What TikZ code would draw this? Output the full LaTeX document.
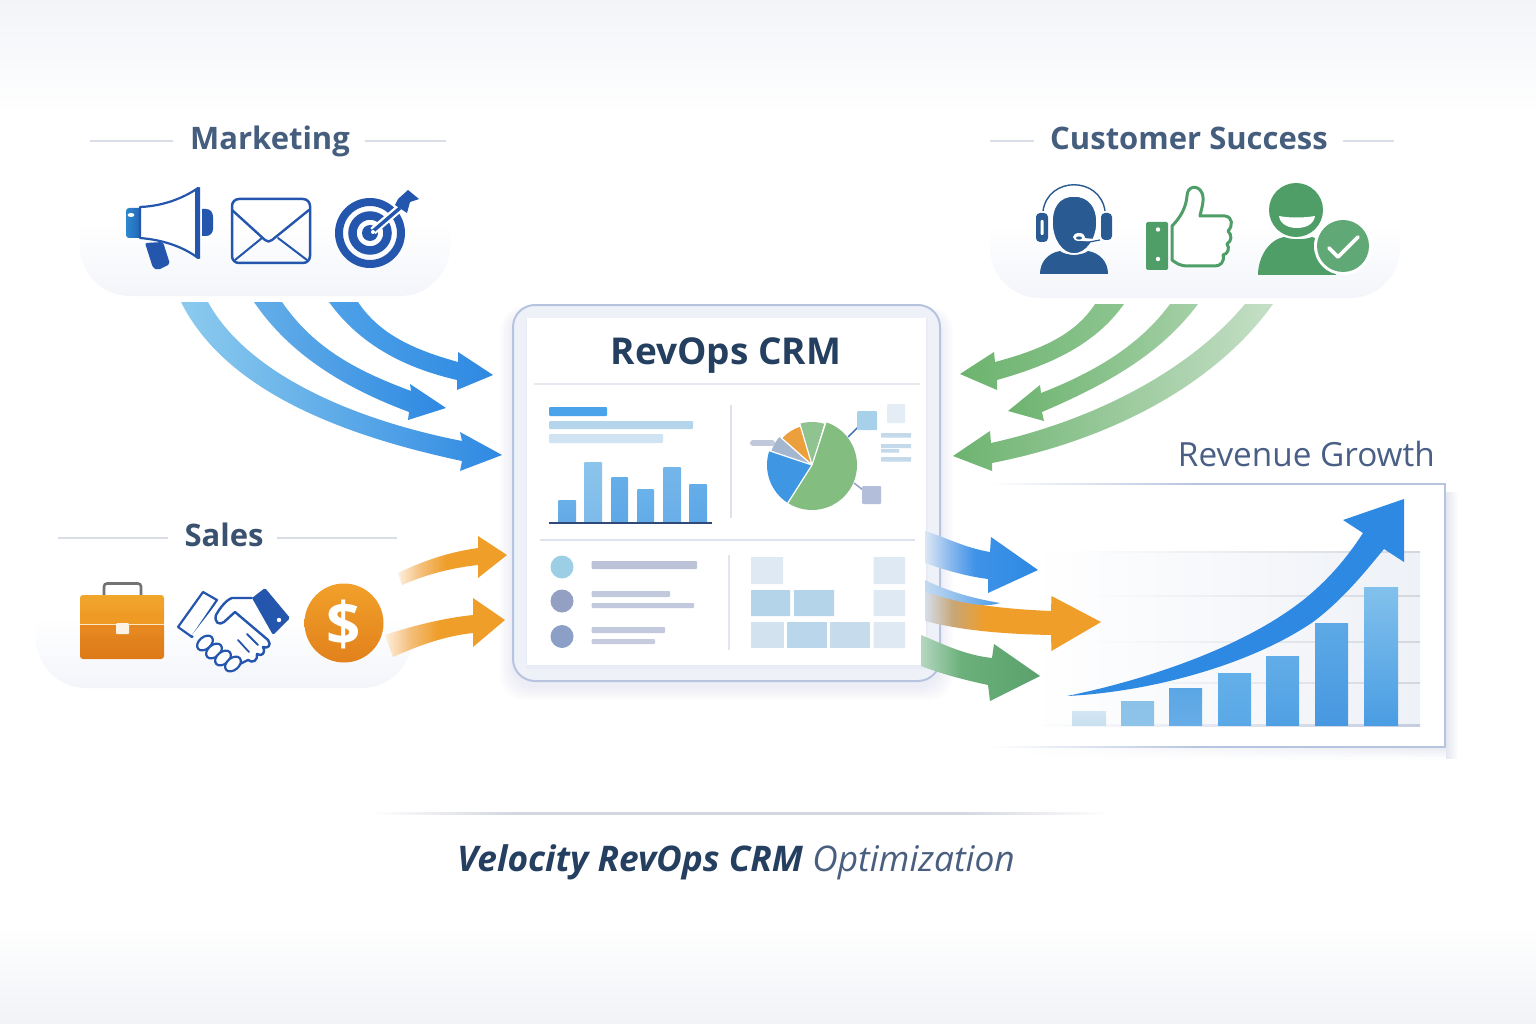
\documentclass[tikz,border=0pt]{standalone}
\usepackage{fontspec}
\setmainfont{Open Sans}
\usetikzlibrary{calc}
\definecolor{navy}{HTML}{243F5F}
\definecolor{slate}{HTML}{465E7E}
\definecolor{iconblue}{HTML}{2456AD}
\definecolor{headset}{HTML}{2A5A92}
\definecolor{csgreen}{HTML}{4F9E68}
\definecolor{rule}{HTML}{D9DDE5}
\definecolor{arrowblue}{HTML}{2E89E2}
\definecolor{arroworange}{HTML}{EF9E2A}
\definecolor{arrowgreen}{HTML}{6DB36F}
\definecolor{outgreen}{HTML}{5AA16D}
\definecolor{edge}{HTML}{B6C4DF}
\definecolor{pale}{HTML}{DFE9F3}
\definecolor{cell}{HTML}{B4D4EA}
\definecolor{textbar}{HTML}{BCC3D8}
\definecolor{grid}{HTML}{E2E6EE}
\newcommand{\hexc}[1]{\definecolor{#1}{HTML}{#1}}
\makeatletter
\newcommand{\hexall}[1]{\@for\hx:=#1\do{\expandafter\hexc\expandafter{\hx}}}
\makeatother
\hexall{F2F4F8,F1F3F7,F3F5FA,2E88CE,2160B2,F1A52B,EE9A25,E6881F,DC7A18,FBE6C6,FDF3E5,F1A02A,E2811C,EEF2F8,E6E9EF,DEE3EE,DDE2EA,E1E5EE,4BA3EA,B5D5EC,CFE3F2,6AB0E8,8CC5EC,66AEE8,6AB2EA,74B6EA,64ADE8,3F90E2,2F4A78,C1C8DC,84BD80,3F97E3,A5B6CF,EB9F3D,8FC38F,3C6CB0,9AA6BF,A7D0EA,E4EDF6,B3BEDB,C4D9EA,9CCFE6,939FC3,8C9FC6,D2E2EF,BAD6EA,C6DCEC,EEF1F7,C4CCDE,D3E6F3,C9E0F0,8CC2E8,8FC4E9,5AA6E4,67ADE8,62AFE9,5AA8E6,62ADE8,4FA0E3,5DA9E6,4798E1,82C1EC,4A9DE3,4A5F85,8CCBEE,64AEE8,4FA2E8,8CC58F,A5D0A7,C5DFC6,FDF0DE,F4C07E,DCE7F4,8AB8EE,3F93E8,D5DEEC,C8A676,C5DAF0,4C9CE8,B4D6C0,6BB07A,D2D6DE,4A5F7F,E4E7F0}
\pgfdeclarehorizontalshading{orangein}{100bp}{color(0bp)=(FDF0DE); color(25bp)=(FDF0DE); color(35bp)=(F4C07E); color(47bp)=(arroworange); color(100bp)=(arroworange)}
\pgfdeclarehorizontalshading{blueout}{100bp}{color(0bp)=(DCE7F4); color(25bp)=(DCE7F4); color(36bp)=(8AB8EE); color(47bp)=(3F93E8); color(75bp)=(arrowblue); color(100bp)=(arrowblue)}
\pgfdeclarehorizontalshading{orangeout}{100bp}{color(0bp)=(D5DEEC); color(25bp)=(D5DEEC); color(33bp)=(C8A676); color(42bp)=(arroworange); color(100bp)=(arroworange)}
\pgfdeclarehorizontalshading{greenout}{100bp}{color(0bp)=(B4D6C0); color(25bp)=(B4D6C0); color(42bp)=(6BB07A); color(75bp)=(outgreen); color(100bp)=(outgreen)}
\pgfdeclarehorizontalshading{rulefade}{100bp}{color(0bp)=(white); color(25bp)=(white); color(35bp)=(D2D6DE); color(65bp)=(D2D6DE); color(75bp)=(white); color(100bp)=(white)}
\tikzset{
  heading/.style={font=\bfseries\fontsize{31}{31}\selectfont,text=slate,inner sep=0pt,anchor=base},
  headrule/.style={draw=rule,line width=2pt},
  softpanel/.style={top color=white,bottom color=F3F5FA,middle color=white,draw=none,rounded corners=50pt},
  iconline/.style={draw=iconblue,line width=2.2pt,line join=round,line cap=round},
}
\newcommand{\softshadow}[5]{%
  \foreach \i in {1,...,9}{
    \fill[black!55!blue!40,opacity=0.012,rounded corners=#5pt]
      (#1-\i*1.5,#2-\i*0.5+6) rectangle (#3+\i*1.5,#4+\i*1.5+6);
  }}
\begin{document}
\begin{tikzpicture}[x=1pt,y=-1pt]
\useasboundingbox (0,0) rectangle (1536,1024);
% background
\fill[white] (0,0) rectangle (1536,1024);
\shade[top color=F2F4F8,bottom color=white] (0,0) rectangle (1536,115);
\shade[top color=white,bottom color=F1F3F7] (0,925) rectangle (1536,1024);

% group panels
\shade[softpanel] (80,150) rectangle (450,296);
\shade[softpanel] (990,150) rectangle (1400,298);
\shade[softpanel] (36,545) rectangle (412,688);

% headings
\node[heading] (mk) at (270,150) {Marketing};
\draw[headrule] (90,141) -- (173,141);
\draw[headrule] (365,141) -- (446,141);
\node[heading] (cs) at (1189,150) {Customer Success};
\draw[headrule] (990,141) -- (1034,141);
\draw[headrule] (1343,141) -- (1394,141);
\node[heading,text=navy!90!white] (sl) at (224,546) {Sales};
\draw[headrule] (58,538) -- (168,538);
\draw[headrule] (277,538) -- (397,538);

% megaphone
\path[rounded corners=3pt,left color=2E88CE,right color=2160B2] (126,208) rectangle (143,238);
\fill[white] (131,215) ellipse (3.4 and 2);
\fill[iconblue] (202,209) -- (206,209) .. controls (211,209) and (213,213) .. (213,217) -- (213,229) .. controls (213,233) and (210,236) .. (206,236) -- (202,236) -- cycle;
\fill[iconblue,rounded corners=2pt] (145,243) -- (163,242) -- (170,264) -- (158,270) -- (153,268) -- cycle;
\path[fill=white,draw=iconblue,line width=2.2pt,line join=round] (140,207) .. controls (165,206) and (185,197) .. (198,188) -- (198,258) .. controls (185,248) and (165,240) .. (140,238) -- cycle;
\fill[iconblue] (195,190) -- (200,187) -- (200,259) -- (195,256) -- cycle;
% envelope
\draw[iconline,line width=2.5pt,rounded corners=7pt] (232,199) rectangle (310,263);
\draw[iconline,line width=2.4pt] (232,210) -- (265,240) .. controls (267,242) and (270,242) .. (272,240) -- (309,210);
\draw[iconline,line width=2pt] (235,260) -- (262,238);
\draw[iconline,line width=2pt] (307,260) -- (278,238);
% target
\draw[iconblue,line width=8pt] (370,233) circle (31);
\draw[iconblue,line width=8.5pt] (370,233) circle (17.5);
\fill[iconblue] (370,233) circle (8);
\draw[white,line width=8pt] (373,231) -- (408,201);
\draw[iconblue,line width=3.5pt] (372,232) -- (400,208);
\fill[white] (373,232) circle (2);
\fill[iconblue] (408,190) -- (419,199) -- (410,202) -- (407,213) -- (395,205) -- (398,199) -- cycle;

% headset agent
\fill[headset] (1040,274) .. controls (1040,262) and (1048,253) .. (1060,251) .. controls (1066,256) and (1082,256) .. (1088,251) .. controls (1100,253) and (1108,262) .. (1108,274) -- cycle;
\fill[headset,draw=white,line width=1.5pt] (1074,196) .. controls (1090,196) and (1097,208) .. (1097,222) .. controls (1097,240) and (1086,254) .. (1074,254) .. controls (1062,254) and (1052,240) .. (1052,222) .. controls (1052,208) and (1058,196) .. (1074,196) -- cycle;
\draw[headset,line width=1.4pt] (1043,211) .. controls (1048,176) and (1100,176) .. (1105,211);
\fill[headset,rounded corners=4pt] (1036,213) rectangle (1048,242);
\fill[white,rounded corners=1pt] (1040.5,220) rectangle (1043.5,235);
\fill[headset,rounded corners=4pt] (1101,213) rectangle (1112,240);
\draw[white,line width=3pt] (1078,239) -- (1100,241);
\draw[headset,line width=1.2pt] (1100,240) -- (1084,243);
\fill[white] (1079,237) ellipse (6 and 4);
\fill[headset] (1079,238) ellipse (3 and 1.6);

% thumbs up
\draw[csgreen,fill=white,line width=3pt,line join=round] (1172,226) .. controls (1180,218) and (1186,208) .. (1187,196) .. controls (1187,186) and (1198,184) .. (1202,193) .. controls (1205,200) and (1201,210) .. (1200,216) -- (1225,216) .. controls (1233,217) and (1233,226) .. (1228,231) .. controls (1232,235) and (1232,241) .. (1227,244) .. controls (1230,248) and (1228,254) .. (1223,255) .. controls (1225,262) and (1220,266) .. (1215,266) -- (1188,266) .. controls (1180,266) and (1176,263) .. (1172,260) -- cycle;
\fill[csgreen,rounded corners=1.5pt] (1146,222) rectangle (1168,270);
\fill[white] (1158,229.5) circle (2.2) (1158,259) circle (2.2);

% happy person with check
\fill[csgreen] (1258,275) .. controls (1258,258) and (1268,240) .. (1284,237) .. controls (1292,240) and (1304,240) .. (1312,237) .. controls (1326,240) and (1336,258) .. (1336,275) -- cycle;
\fill[csgreen] (1296,210) circle (27);
\fill[white] (1279,216) .. controls (1288,218) and (1304,218) .. (1315,216) .. controls (1314,224) and (1306,228) .. (1297,228) .. controls (1288,228) and (1280,224) .. (1279,216) -- cycle;
\fill[white] (1343,246) circle (29);
\fill[csgreen!90!white] (1343,246) circle (26);
\draw[white,line width=3.6pt,line cap=round,line join=round] (1329,248) -- (1338,257) -- (1358,237);

% briefcase
\draw[black!55!white,line width=2.6pt,rounded corners=3pt] (104,596) -- (104,583.5) -- (141,583.5) -- (141,596);
\path[top color=F1A52B,bottom color=EE9A25,rounded corners=3pt] (80,595) -- (164,595) -- (164,624) -- (80,624) -- cycle;
\path[top color=E6881F,bottom color=DC7A18,rounded corners=3pt] (80,624) -- (164,624) -- (164,659) -- (80,659) -- cycle;
\fill[EE9A25] (80,612) rectangle (164,624);
\fill[E6881F] (80,624) rectangle (164,635);
\draw[FBE6C6,line width=1pt] (80,624) -- (164,624);
\fill[FDF3E5,rounded corners=1pt] (116,623) rectangle (129,634);

% handshake
\draw[iconline,fill=white,line width=2.2pt] (203,592) -- (217,600) -- (192,637) -- (178,627) -- cycle;
\path[fill=white] (192,635) -- (233,668) -- (255,660) -- (272,640) -- (252,598) -- (232,598) -- (217,603) -- cycle;
\draw[iconline,line width=2.4pt] (252,598) -- (232,598) .. controls (226,600) and (220,608) .. (216,615) .. controls (214,622) and (219,626) .. (224,622) -- (235,612) -- (268,640) .. controls (272,645) and (268,649) .. (263,647) .. controls (266,653) and (262,657) .. (257,654) .. controls (258,660) and (253,664) .. (248,660) -- (240,664);
\draw[iconline,line width=1.8pt] (247,634) -- (258,645);
\draw[iconline,line width=1.8pt] (238,640) -- (249,652);
\foreach \c/\a in {(205,643)/40,(214,651)/40,(223,658)/40,(233,664)/40}{
  \draw[iconline,fill=white,line width=2.2pt,rotate around={\a:\c}] \c ellipse (9 and 6);
}
\fill[iconblue,rounded corners=1.5pt] (265,588) -- (290,618) -- (273,635) -- (252,598) -- cycle;
\fill[white] (279,620) circle (2.2);

% dollar coin
\shade[top color=F1A02A,bottom color=E2811C] (344,623) circle (39.5);
\node[font=\bfseries\fontsize{60}{60}\selectfont,text=white,inner sep=0pt] (dollar) at (344,624) {\$};

% CRM panel
\softshadow{513}{305}{940}{681}{24}
\draw[edge,line width=2pt,fill=EEF2F8,rounded corners=22pt] (513,305) rectangle (940,681);
\fill[black!60!blue!40,opacity=0.06] (526,318) rectangle (928,669);
\fill[white] (527,318) rectangle (926,665);
\node[font=\bfseries\fontsize{37}{37}\selectfont,text=navy,inner sep=0pt,anchor=base] (crm) at (726,364) {RevOps CRM};
\draw[E6E9EF,line width=2pt] (534,383.5) -- (920,383.5);
\draw[DEE3EE,line width=2.5pt] (540,540) -- (915,540);
\draw[DDE2EA,line width=2.5pt] (731,405) -- (731,518);
\draw[E1E5EE,line width=1.5pt] (729,555) -- (729,650);
% text bars top-left
\fill[4BA3EA,rounded corners=1pt] (549,407) rectangle (607,416);
\fill[B5D5EC,rounded corners=1pt] (549,421) rectangle (693,429);
\fill[CFE3F2,rounded corners=1pt] (549,434) rectangle (663,443);
% bars
\foreach \xa/\xb/\yt/\c in {558/576/500/6AB0E8,584/602/462/8CC5EC,611/628/477/66AEE8,637/654/489/6AB2EA,663/681/467/74B6EA,689/707/484/64ADE8}{
  \path[top color=\c,bottom color=\c!80!3F90E2,rounded corners=1pt] (\xa,\yt) rectangle (\xb,523);
}
\draw[2F4A78,line width=1.6pt] (549,523) -- (712,523);
% pie
\coordinate (pie) at (812,465);
\draw[C1C8DC,line width=6pt,line cap=round] (753,443) -- (772,443);
\fill[84BD80] (pie) -- ++(-72:45) arc[start angle=-72,end angle=122,radius=45] -- cycle;
\fill[3F97E3] (pie) -- ++(122.5:45) arc[start angle=122.5,end angle=198,radius=45] -- cycle;
\fill[A5B6CF] (pie) -- ++(199:43) arc[start angle=199,end angle=221,radius=43] -- cycle;
\fill[EB9F3D] (pie) -- ++(222:40) arc[start angle=222,end angle=253,radius=40] -- cycle;
\fill[8FC38F] (pie) -- ++(254:43) arc[start angle=254,end angle=286.5,radius=43] -- cycle;
\draw[white,line width=1.2pt] (pie) -- ++(-72:46) (pie) -- ++(122.5:46) (pie) -- ++(198.5:46) (pie) -- ++(221.5:46) (pie) -- ++(253.5:46);
\draw[3C6CB0,line width=1.4pt] (848,437) -- (858,427);
\draw[9AA6BF,line width=1.6pt] (854,483) -- (863,490);
\fill[A7D0EA,rounded corners=1pt] (857,411) rectangle (877,430);
\fill[E4EDF6,rounded corners=1pt] (887,404) rectangle (905,423);
\fill[B3BEDB,rounded corners=1pt] (862,486) rectangle (881,504);
\fill[C4D9EA] (881,433) rectangle (911,437.5) (881,444) rectangle (911,448) (881,449) rectangle (899,452.5) (881,457) rectangle (911,461.5);
% list rows
\fill[9CCFE6] (562,567) ellipse (11.5 and 11.5);
\fill[939FC3] (562,601) ellipse (11.5 and 11.5);
\fill[8C9FC6] (562,636.5) ellipse (11.5 and 11.5);
\fill[textbar,rounded corners=1pt] (591.5,561) rectangle (697,569);
\fill[textbar!90!white,rounded corners=1pt] (591.5,591) rectangle (670,597);
\fill[textbar!90!white,rounded corners=1pt] (591.5,603) rectangle (694,608);
\fill[textbar!90!white,rounded corners=1pt] (591.5,627) rectangle (665,633);
\fill[textbar!85!white,rounded corners=1pt] (591.5,639) rectangle (655,644);
% grid cells
\fill[pale] (751,557) rectangle (783,584) (873.5,557) rectangle (905,584) (873.5,590) rectangle (905,616) (873.5,622) rectangle (905,648);
\fill[cell] (751,590) rectangle (790,616) (794,590) rectangle (834,616);
\fill[D2E2EF] (751,622) rectangle (784,648);
\fill[BAD6EA] (787,622) rectangle (827,648);
\fill[C6DCEC] (830,622) rectangle (870,648);

% chart frame
\foreach \i [evaluate=\i as \p using 100-\i*15] in {1,...,6}{
  \shade[left color=white,right color=E4E7F0!\p!white] (1010,747+2*\i-2) rectangle (1447,747+2*\i);
}
\shade[left color=E4E7F0,right color=white] (1446,492) rectangle (1458,758);
\fill[white] (987,484) rectangle (1445,747);
\shade[left color=white,right color=edge] (990,483.2) rectangle (1200,484.8);
\fill[edge] (1200,483.2) rectangle (1446,484.8);
\shade[left color=white,right color=edge] (990,746.2) rectangle (1200,747.8);
\fill[edge] (1200,746.2) rectangle (1446,747.8);
\fill[edge] (1444.4,483.2) rectangle (1446,747.8);
\shade[left color=white,right color=EEF1F7] (1030,552) rectangle (1420,725);
\foreach \y in {552,596,642,683}{
  \shade[left color=white,right color=grid!85!gray] (1065,\y-0.8) rectangle (1420,\y+0.8);
}
\shade[left color=white,right color=C4CCDE] (1030,724.4) rectangle (1420,726);
\foreach \xa/\xb/\yt/\c/\d in {1072/1106/711/D3E6F3/C9E0F0,1121/1154/701/8CC2E8/8FC4E9,1169/1202/688/5AA6E4/67ADE8,1218/1251/673/62AFE9/5AA8E6,1266/1299/656/62ADE8/4FA0E3,1315/1348/623/5DA9E6/4798E1,1364/1398/587/82C1EC/4A9DE3}{
  \shade[top color=\c,bottom color=\d] (\xa,\yt) rectangle (\xb,725);
}
\fill[arrowblue] (1067,696) .. controls (1160,677) and (1260,640) .. (1315,590) .. controls (1335,572) and (1350,553) .. (1363,533) -- (1343,520) -- (1404,499) -- (1404,562) -- (1384,549) .. controls (1368,568) and (1345,598) .. (1313,622) .. controls (1250,665) and (1150,692) .. (1067,696) -- cycle;
\node[font=\fontsize{33.3}{33.3}\selectfont,text=4A5F85,inner sep=0pt,anchor=base east] (rev) at (1435,466) {Revenue Growth};

% inbound arrows (blue)
\shade[left color=8CCBEE,right color=arrowblue] (181,302) .. controls (225,390) and (340,435) .. (462,461) -- (460,471) -- (502,455) -- (460,432) -- (462,441) .. controls (345,418) and (245,370) .. (208,302) -- cycle;
\shade[left color=64AEE8,right color=arrowblue] (254,302) .. controls (290,355) and (345,388) .. (409,412) -- (408,420) -- (446,408) -- (410,384) -- (411,391) .. controls (360,372) and (315,350) .. (282,302) -- cycle;
\shade[left color=4FA2E8,right color=arrowblue] (329,302) .. controls (360,345) and (405,368) .. (457,380) -- (457,390) -- (493,375) -- (458,352) -- (458,362) .. controls (415,350) and (380,335) .. (358,302) -- cycle;
% inbound arrows (green)
\shade[right color=8CC58F,left color=arrowgreen] (1124,304) .. controls (1095,345) and (1050,365) .. (997,380) -- (997,390) -- (960,374) -- (994,352) -- (995,362) .. controls (1040,350) and (1075,335) .. (1095,304) -- cycle;
\shade[right color=A5D0A7,left color=arrowgreen] (1198,304) .. controls (1160,355) and (1105,385) .. (1042,412) -- (1044,421) -- (1008,411) -- (1040,385) -- (1041,393) .. controls (1095,372) and (1140,345) .. (1170,304) -- cycle;
\shade[right color=C5DFC6,left color=arrowgreen] (1273,304) .. controls (1215,385) and (1110,440) .. (992,463) -- (992,471) -- (953,456) -- (990,431) -- (991,443) .. controls (1095,420) and (1190,370) .. (1245,304) -- cycle;
% inbound arrows (orange)
\shade[shading=orangein] (398,573) .. controls (425,560) and (450,552) .. (478,548) -- (478,536) -- (507,555) -- (478,578) -- (478,565) .. controls (450,568) and (425,575) .. (402,585) -- cycle;
\shade[shading=orangein] (385,635) .. controls (415,625) and (445,618) .. (473,615) -- (473,598) -- (505,620) -- (473,647) -- (473,633) .. controls (445,636) and (420,645) .. (393,657) -- cycle;

% outbound arrows
\shade[shading=blueout] (925,531) .. controls (945,537) and (965,548) .. (990,552) -- (991,537) -- (1038,570) -- (988,593) -- (988,579) .. controls (965,576) and (945,570) .. (925,563) -- cycle;
\shade[shading=orangeout] (925,590) .. controls (950,600) and (980,608) .. (1051,611) -- (1051.5,596) -- (1101,622) -- (1051.5,651) -- (1051,635) .. controls (1000,634) and (960,630) .. (925,621) -- cycle;
\shade[left color=C5DAF0,right color=4C9CE8] (925,580) .. controls (945,590) and (970,598) .. (1000,603) .. controls (985,608) and (965,604) .. (925,592) -- cycle;
\shade[shading=greenout] (921,635) .. controls (945,645) and (965,655) .. (992,658) -- (994,644) -- (1040,676) -- (990,701) -- (988,685) .. controls (965,680) and (945,675) .. (921,666) -- cycle;

% caption
\shade[shading=rulefade] (368,812.5) rectangle (1108,814.5);
\node[inner sep=0pt,text=navy,anchor=base] (cap) at (736,871) {\fontsize{35.3}{35.3}\selectfont\textbf{\textit{Velocity RevOps CRM}} \textcolor{4A5F7F}{\textit{Optimization}}};
\end{tikzpicture}
\end{document}
